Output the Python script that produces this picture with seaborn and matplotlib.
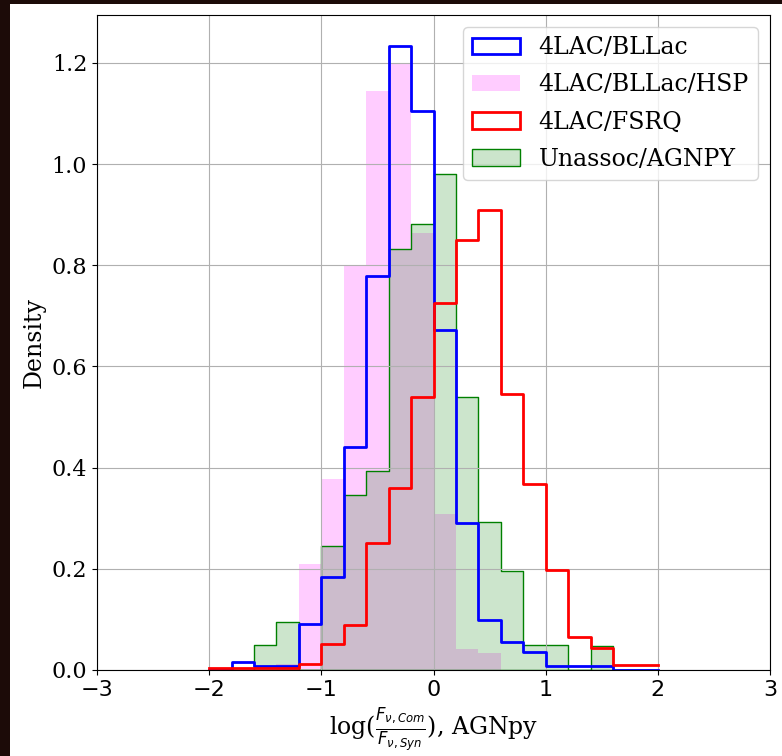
import matplotlib
matplotlib.use('Agg')
import numpy as np
import seaborn as sns
from matplotlib import pyplot as plt
from matplotlib.patches import Rectangle, Patch

# histogram bins (width 0.2 from -2 to 2)
bin_edges = [-2.0, -1.8, -1.6, -1.4, -1.2, -1.0, -0.8, -0.6, -0.4, -0.2, 0.0,
             0.2, 0.4, 0.6, 0.8, 1.0, 1.2, 1.4, 1.6, 1.8, 2.0]
bin_centers = [-1.9, -1.7, -1.5, -1.3, -1.1, -0.9, -0.7, -0.5, -0.3, -0.1,
               0.1, 0.3, 0.5, 0.7, 0.9, 1.1, 1.3, 1.5, 1.7, 1.9]

# density per bin
bllac = [0.0, 0.015, 0.007, 0.007, 0.09, 0.184, 0.44, 0.778, 1.233, 1.105,
         0.673, 0.29, 0.099, 0.056, 0.036, 0.008, 0.008, 0.008, 0.0, 0.0]
bllac_hsp = [0.0, 0.0, 0.0, 0.012, 0.21, 0.378, 0.798, 1.144, 1.199, 0.864,
             0.309, 0.041, 0.033, 0.0, 0.0, 0.0, 0.0, 0.0, 0.0, 0.0]
fsrq = [0.004, 0.004, 0.004, 0.004, 0.011, 0.051, 0.089, 0.251, 0.36, 0.539,
        0.726, 0.849, 0.91, 0.545, 0.367, 0.197, 0.066, 0.043, 0.009, 0.009]
unassoc = [0.0, 0.0, 0.05, 0.095, 0.0, 0.246, 0.345, 0.393, 0.832, 0.881,
           0.98, 0.539, 0.292, 0.195, 0.049, 0.049, 0.0, 0.048, 0.0, 0.0]

labels = ['4LAC/BLLac', '4LAC/BLLac/HSP', '4LAC/FSRQ', 'Unassoc/AGNPY']

plt.rcParams['font.family'] = 'serif'
plt.rcParams['mathtext.fontset'] = 'dejavusans'

fig = plt.figure(figsize=(7.82, 7.56), dpi=100, facecolor='#1c0b08')
# white page area (screenshot has a dark border on left/top)
fig.patches.append(Rectangle((10 / 782, 0), 1, 1 - 4 / 756, transform=fig.transFigure,
                             facecolor='white', edgecolor='none', zorder=-1))
ax = fig.add_axes([97 / 782, 1 - 670 / 756, 673 / 782, 655 / 756])

common = dict(x=bin_centers, bins=bin_edges, stat='count', element='step', ax=ax)

# 1. BLLac - blue outline
sns.histplot(weights=bllac, fill=False, color='b', linewidth=2, **common)
# 2. HSP - pink filled
sns.histplot(weights=bllac_hsp, fill=True, color='magenta', alpha=0.2,
             linewidth=0, **common)
# 3. FSRQ - red outline
sns.histplot(weights=fsrq, fill=False, color='r', linewidth=2, **common)
# 4. Unassoc - green filled with edge
sns.histplot(weights=unassoc, fill=True, color='g', alpha=0.2,
             linewidth=1, **common)

ax.set_xlim(-3, 3)
ax.grid(True)
ax.set_ylabel('Density', fontsize=17)
ax.set_xlabel(r'log($\frac{F_{\nu,Com}}{F_{\nu,Syn}}$), AGNpy', fontsize=17)
ax.tick_params(axis='y', labelsize=16)
ax.tick_params(axis='x', labelsize=16)
for lbl in ax.get_xticklabels():
    lbl.set_fontfamily('DejaVu Sans')

handles = [
    Patch(facecolor='none', edgecolor='b', linewidth=2),
    Patch(facecolor=(1, 0, 1, 0.2), edgecolor='none'),
    Patch(facecolor='none', edgecolor='r', linewidth=2),
    Patch(facecolor=(0, 0.5, 0, 0.2), edgecolor='g', linewidth=1),
]
ax.legend(handles, labels, loc='upper right', fontsize=17, labelspacing=0.6)

plt.savefig('out.png', dpi=100, facecolor=fig.get_facecolor())
plt.close()
